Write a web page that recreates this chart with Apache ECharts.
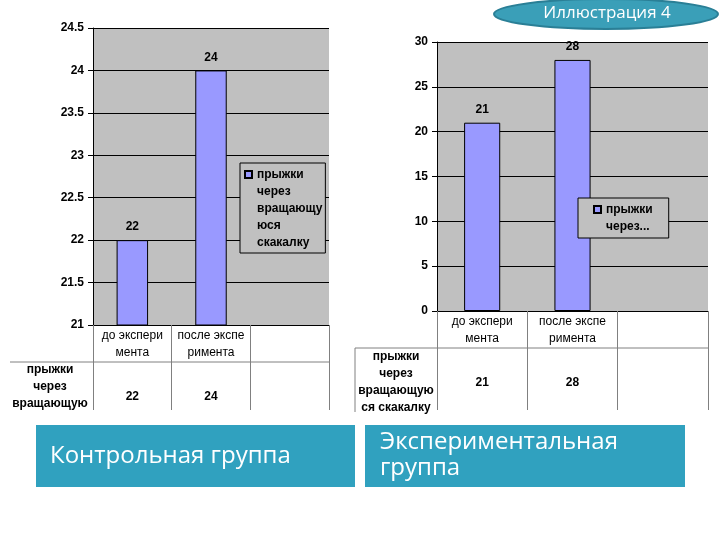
<!DOCTYPE html>
<html>
<head>
<meta charset="utf-8">
<script src="https://cdn.jsdelivr.net/npm/echarts@6/dist/echarts.min.js"></script>
<style>
  html, body { margin: 0; padding: 0; background: #fff; }
  #main { width: 720px; height: 540px; }
</style>
</head>
<body>
<div id="main"></div>
<script>
// данные
var categories = ['до экспери\nмента', 'после экспе\nримента', ''];
var controlValues = [22, 24, '-'];
var experimentValues = [21, 28, '-'];
var rowHeaderLeft = 'прыжки\nчерез\nвращающую';
var rowHeaderRight = 'прыжки\nчерез\nвращающую\nся скакалку';
var legendLeft = 'прыжки\nчерез\nвращающу\nюся\nскакалку';
var legendRight = 'прыжки\nчерез...';
var leftAxis = { min: 21, max: 24.5, step: 0.5 };
var rightAxis = { min: 0, max: 30, step: 5 };

var chartDom = document.getElementById('main');
var myChart = echarts.init(chartDom);

var barColor = '#9999ff';
var plotBg = '#c0c0c0';
var boxColor = '#30a1bf';
var font = 'Liberation Sans, Arial, sans-serif';

function xAxisCfg(gridIndex, tickLen) {
    return {
        type: 'category',
        gridIndex: gridIndex,
        data: categories,
        axisLine: { lineStyle: { color: '#000' } },
        axisTick: { show: true, length: tickLen, lineStyle: { color: '#808080' } },
        axisLabel: {
            color: '#000', fontFamily: font, fontSize: 12, lineHeight: 17,
            margin: 2, interval: 0
        }
    };
}

function yAxisCfg(gridIndex, ax) {
    return {
        type: 'value',
        gridIndex: gridIndex,
        min: ax.min,
        max: ax.max,
        interval: ax.step,
        axisLine: { show: true, lineStyle: { color: '#000' } },
        axisTick: { show: true, length: 5, lineStyle: { color: '#000' } },
        axisLabel: { color: '#000', fontFamily: font, fontSize: 12, fontWeight: 'bold', margin: 9 },
        splitLine: { show: true, lineStyle: { color: '#000', width: 1 } }
    };
}

function barSeries(name, idx, data) {
    return {
        name: name,
        type: 'bar',
        xAxisIndex: idx,
        yAxisIndex: idx,
        data: data,
        barWidth: '40%',
        itemStyle: { color: barColor, borderColor: '#000', borderWidth: 1 },
        label: {
            show: true, position: 'top', distance: 7,
            color: '#000', fontFamily: font, fontSize: 12, fontWeight: 'bold'
        }
    };
}

// значок легенды прижат к первой строке (пустая точка внизу пути)
function legendCfg(name, text, pos) {
    return {
        data: [name],
        left: pos.left,
        top: pos.top,
        padding: pos.padding,
        backgroundColor: plotBg,
        borderColor: '#000',
        borderWidth: 1,
        borderRadius: 0,
        itemWidth: 7,
        itemHeight: pos.iconH,
        itemGap: 5,
        icon: 'path://M0,0h10v10h-10zM0,' + (pos.iconH / 0.7).toFixed(1),
        selectedMode: false,
        formatter: function () { return text; },
        textStyle: { color: '#000', fontFamily: font, fontSize: 12, lineHeight: 17, fontWeight: 'bold' }
    };
}

var option = {
    animation: false,
    backgroundColor: '#fff',
    grid: [
        { left: 93, top: 28, width: 236, height: 297, show: true, backgroundColor: plotBg, borderWidth: 0 },
        { left: 437, top: 42, width: 271, height: 269, show: true, backgroundColor: plotBg, borderWidth: 0 }
    ],
    xAxis: [xAxisCfg(0, 85), xAxisCfg(1, 99)],
    yAxis: [yAxisCfg(0, leftAxis), yAxisCfg(1, rightAxis)],
    legend: [
        legendCfg('Контрольная', legendLeft, { left: 240, top: 163, padding: [3, 3, 2, 4], iconH: 75 }),
        legendCfg('Экспериментальная', legendRight, { left: 578, top: 198, padding: [3, 16, 3, 15], iconH: 24 })
    ],
    series: [
        barSeries('Контрольная', 0, controlValues),
        barSeries('Экспериментальная', 1, experimentValues)
    ]
};
option && myChart.setOption(option);

// таблица под графиками и подписи
var graphics = [];
function tableCell(idx, values, y) {
    values.forEach(function (v, i) {
        if (v === '-') return;
        var x = myChart.convertToPixel({ xAxisIndex: idx }, i);
        graphics.push({
            type: 'text', x: x, y: y,
            style: { text: String(v), fill: '#000', font: 'bold 12px ' + font, textAlign: 'center', textVerticalAlign: 'middle' }
        });
    });
}
tableCell(0, controlValues, 397);
tableCell(1, experimentValues, 383);

graphics.push(
    { type: 'line', shape: { x1: 10, y1: 362, x2: 329, y2: 362 }, style: { stroke: '#808080', lineWidth: 1 } },
    { type: 'line', shape: { x1: 355, y1: 348, x2: 708, y2: 348 }, style: { stroke: '#808080', lineWidth: 1 } },
    { type: 'line', shape: { x1: 355, y1: 348, x2: 355, y2: 412 }, style: { stroke: '#808080', lineWidth: 1 } },
    {
        type: 'text', x: 50, y: 387,
        style: { text: rowHeaderLeft, fill: '#000', font: 'bold 12px ' + font, lineHeight: 17, textAlign: 'center', textVerticalAlign: 'middle' }
    },
    {
        type: 'text', x: 396, y: 382,
        style: { text: rowHeaderRight, fill: '#000', font: 'bold 12px ' + font, lineHeight: 17, textAlign: 'center', textVerticalAlign: 'middle' }
    },
    // подписи групп
    { type: 'rect', shape: { x: 36, y: 425, width: 319, height: 62 }, style: { fill: boxColor } },
    {
        type: 'text', x: 50, y: 456,
        style: { text: 'Контрольная группа', fill: '#fff', font: '24px Open Sans, sans-serif', textVerticalAlign: 'middle' }
    },
    { type: 'rect', shape: { x: 365, y: 425, width: 320, height: 62 }, style: { fill: boxColor } },
    {
        type: 'text', x: 380, y: 455,
        style: { text: 'Экспериментальная\nгруппа', fill: '#fff', font: '24px Open Sans, sans-serif', lineHeight: 26, textVerticalAlign: 'middle' }
    },
    // значок "Иллюстрация 4"
    {
        type: 'ellipse', shape: { cx: 606, cy: 14, rx: 112, ry: 15 },
        style: { fill: '#3a9fb8', stroke: '#2a7f96', lineWidth: 2 }
    },
    {
        type: 'text', x: 607, y: 13,
        style: { text: 'Иллюстрация 4', fill: '#fff', font: '17px Open Sans, sans-serif', textAlign: 'center', textVerticalAlign: 'middle' }
    }
);
myChart.setOption({ graphic: graphics });
</script>
</body>
</html>
